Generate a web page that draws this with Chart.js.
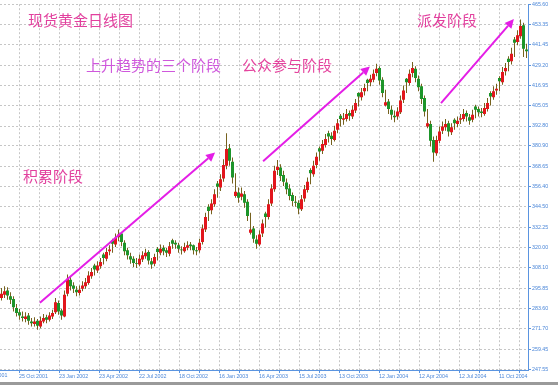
<!DOCTYPE html>
<html>
<head>
<meta charset="utf-8">
<script src="https://cdn.jsdelivr.net/npm/chart.js@4.4.1/dist/chart.umd.min.js"></script>
<style>
  html, body { margin: 0; padding: 0; background: #9a9a9a; }
  #wrap { width: 558px; height: 382px; background: #fff; }
</style>
</head>
<body>
<div id="wrap"><canvas id="gold" width="558" height="382"></canvas></div>
<script>
/* 现货黄金日线图 — gold spot, candles (one candle ≈ one week) */

// ── Data ─────────────────────────────────────────────────────────────────────
const opens = [
  290.0, 292.0, 294.5, 291.0, 289.5, 284.0, 281.5, 279.0, 277.5, 279.5,
  276.0, 274.5, 276.5, 273.0, 276.0, 278.5, 277.0, 279.0, 281.5, 287.0,
  282.5, 279.0, 292.5, 301.0, 297.5, 295.0, 293.0, 295.5, 297.0, 299.0,
  303.0, 309.5, 306.5, 309.0, 316.0, 313.5, 318.0, 324.5, 322.0, 326.5,
  328.5, 323.0, 318.5, 315.0, 313.5, 311.0, 310.0, 313.0, 315.0, 317.5,
  312.0, 310.5, 319.5, 317.0, 320.0, 318.5, 316.5, 324.5, 323.0, 321.5,
  319.0, 318.0, 320.0, 322.0, 321.5, 318.5, 318.5, 323.5, 331.0, 344.5,
  342.5, 346.0, 358.5, 356.0, 361.5, 369.0, 379.5, 371.5, 351.0, 353.0,
  350.5, 352.0, 347.5, 329.0, 331.5, 325.0, 322.0, 328.5, 340.5, 338.5,
  346.5, 355.0, 366.5, 368.0, 363.5, 359.0, 355.5, 351.5, 347.5, 347.0,
  343.0, 349.5, 354.5, 366.5, 364.0, 369.5, 379.5, 378.0, 381.5, 388.5,
  387.0, 384.5, 390.5, 399.0, 396.5, 397.0, 400.5, 398.5, 402.0, 412.5,
  410.0, 413.5, 420.5, 419.0, 420.5, 424.5, 427.5, 420.5, 405.0, 407.5,
  402.5, 399.0, 398.5, 401.0, 408.5, 421.0, 418.5, 424.5, 427.0, 421.0,
  416.5, 409.5, 392.5, 394.0, 384.5, 376.5, 384.0, 390.0, 392.0, 394.5,
  389.0, 396.5, 394.0, 396.5, 397.0, 400.5, 398.0, 396.5, 404.5, 403.0,
  401.5, 400.0, 403.0, 412.5, 410.0, 414.0, 421.5, 419.0, 425.5, 433.0,
  431.5, 444.5, 443.0, 446.5, 453.0, 438.5
];
const highs = [
  296.0, 297.0, 296.5, 293.5, 291.0, 286.5, 283.5, 282.0, 281.5, 281.0,
  278.0, 278.5, 277.5, 279.0, 280.5, 280.0, 281.5, 283.0, 290.0, 288.5,
  283.5, 294.5, 304.0, 303.0, 299.5, 297.0, 297.5, 300.0, 302.0, 306.0,
  308.0, 310.5, 312.0, 314.0, 317.0, 320.0, 321.5, 325.5, 328.5, 331.0,
  329.5, 324.5, 320.0, 317.0, 315.0, 314.0, 316.0, 318.0, 319.5, 318.5,
  314.0, 316.5, 320.5, 322.0, 321.5, 320.0, 323.5, 325.5, 324.5, 323.0,
  321.0, 323.0, 324.0, 323.5, 322.0, 320.5, 325.5, 334.0, 341.0, 346.0,
  349.0, 355.0, 360.0, 364.0, 373.0, 388.5, 382.0, 374.0, 364.5, 356.0,
  356.0, 354.0, 349.0, 341.0, 333.0, 327.5, 330.5, 337.0, 341.5, 349.0,
  358.0, 369.0, 372.5, 370.0, 366.0, 361.5, 358.0, 353.0, 351.0, 348.5,
  351.5, 357.5, 362.0, 367.5, 372.0, 377.0, 380.5, 384.5, 388.0, 390.0,
  389.0, 393.0, 397.0, 400.0, 400.5, 403.0, 402.0, 405.0, 409.0, 413.0,
  415.5, 418.0, 421.0, 423.5, 426.5, 430.0, 428.5, 422.0, 414.5, 409.0,
  405.0, 402.0, 404.0, 411.0, 417.0, 421.5, 426.5, 431.0, 428.5, 423.0,
  418.0, 411.0, 403.0, 396.0, 386.5, 387.0, 392.5, 395.5, 397.0, 396.0,
  394.5, 397.5, 398.5, 400.0, 403.0, 402.0, 400.0, 402.5, 405.5, 404.5,
  403.5, 406.5, 409.5, 413.5, 416.5, 418.0, 422.5, 428.0, 430.5, 434.5,
  439.5, 446.0, 450.0, 456.5, 454.5, 442.0
];
const lows = [
  288.5, 290.0, 289.0, 286.5, 282.0, 279.0, 277.0, 276.0, 275.5, 274.0,
  273.0, 273.0, 271.0, 272.0, 275.0, 275.0, 276.0, 277.5, 280.5, 280.0,
  277.0, 278.5, 291.0, 294.5, 293.0, 291.0, 291.5, 294.0, 295.5, 298.0,
  301.5, 303.5, 305.0, 307.5, 310.0, 312.0, 315.5, 317.0, 320.5, 324.0,
  321.0, 315.5, 313.0, 310.5, 308.5, 308.0, 309.0, 311.5, 313.5, 310.0,
  307.5, 309.0, 312.5, 315.5, 315.5, 314.5, 315.0, 319.5, 319.5, 317.0,
  316.0, 317.0, 318.5, 318.5, 316.0, 315.5, 317.0, 322.0, 329.5, 336.0,
  340.0, 344.5, 350.0, 354.0, 359.5, 367.0, 369.0, 358.5, 350.0, 347.0,
  348.5, 344.0, 336.0, 328.0, 323.0, 319.5, 321.0, 326.5, 332.0, 337.0,
  345.0, 353.5, 363.5, 360.0, 357.0, 352.0, 348.5, 345.0, 344.5, 340.0,
  342.0, 347.5, 353.0, 358.0, 362.5, 367.5, 372.0, 376.0, 380.0, 383.0,
  381.5, 383.5, 388.5, 392.5, 393.5, 395.5, 396.0, 397.0, 400.5, 404.5,
  408.0, 411.0, 413.5, 416.5, 419.0, 422.5, 417.5, 410.0, 404.5, 400.0,
  396.5, 395.0, 396.5, 400.0, 406.5, 412.5, 417.0, 422.0, 419.0, 413.5,
  406.0, 398.5, 391.5, 380.5, 371.5, 375.0, 382.5, 388.0, 390.0, 386.5,
  387.5, 390.5, 392.0, 394.0, 395.5, 395.5, 393.5, 395.0, 397.5, 398.5,
  398.0, 399.0, 401.5, 405.0, 408.5, 411.5, 413.5, 417.5, 423.0, 425.5,
  429.5, 434.0, 441.0, 445.0, 434.0, 433.5
];
const closes = [
  292.5, 294.0, 291.5, 289.0, 284.5, 281.0, 279.5, 278.0, 279.0, 276.5,
  275.0, 276.0, 273.5, 276.5, 278.0, 277.0, 279.5, 281.0, 287.5, 282.0,
  279.5, 292.0, 301.5, 297.0, 295.5, 293.5, 295.0, 297.5, 299.5, 303.5,
  305.5, 307.0, 309.5, 311.5, 314.0, 317.5, 319.0, 322.5, 326.0, 328.0,
  323.5, 318.0, 315.5, 313.0, 311.0, 310.5, 313.5, 315.5, 317.0, 312.5,
  310.0, 314.5, 317.5, 319.5, 318.0, 317.0, 321.0, 322.5, 322.0, 319.5,
  318.5, 320.5, 321.5, 321.0, 318.5, 318.0, 323.0, 331.5, 338.5, 342.0,
  346.5, 352.0, 356.5, 361.0, 369.5, 379.0, 372.0, 362.0, 353.5, 350.0,
  352.5, 347.0, 339.0, 331.0, 325.5, 322.5, 328.0, 334.5, 338.5, 346.0,
  355.5, 366.0, 368.5, 363.0, 359.5, 355.0, 351.0, 348.0, 347.0, 343.5,
  349.0, 355.0, 359.5, 364.5, 369.0, 374.5, 377.5, 382.0, 385.0, 386.5,
  385.0, 390.0, 394.5, 397.0, 397.5, 400.0, 399.0, 402.5, 406.5, 410.5,
  413.0, 415.5, 418.5, 421.0, 424.0, 427.0, 420.0, 412.5, 407.0, 403.0,
  399.5, 398.0, 401.5, 408.0, 414.0, 419.0, 424.0, 427.5, 421.5, 416.0,
  409.0, 401.5, 394.5, 384.0, 377.0, 384.5, 389.5, 392.5, 394.0, 389.5,
  392.0, 394.5, 396.0, 397.5, 400.0, 398.5, 396.0, 399.5, 402.5, 401.0,
  400.5, 403.5, 406.5, 410.5, 413.5, 415.0, 419.5, 425.0, 427.5, 431.0,
  436.0, 442.5, 447.0, 452.5, 439.0, 437.5
];

// price scale labels (right axis)
const yTicks = [
  247.55, 259.45, 271.70, 283.60, 295.85, 308.10, 320.00, 332.25, 344.50, 356.40,
  368.65, 380.90, 392.80, 405.05, 416.95, 429.20, 441.45, 453.35, 465.60
];
// date labels, one on every second grid line
const xLabels = [
  '27 Jul 2001', '25 Oct 2001', '23 Jan 2002', '23 Apr 2002', '22 Jul 2002',
  '18 Oct 2002', '16 Jan 2003', '16 Apr 2003', '15 Jul 2003', '13 Oct 2003',
  '12 Jan 2004', '12 Apr 2004', '12 Jul 2004', '11 Oct 2004'
];
const X_GRID_FIRST = -7.5;      // candle index of the first (hidden) date label
const X_GRID_STEP = 20 / 3;     // grid every 6⅔ candles

// annotations, in [candle index, price]
const noteTexts  = ['现货黄金日线图', '上升趋势的三个阶段', '公众参与阶段', '派发阶段', '积累阶段'];
const noteAnchor = [[8.8, 455.9], [28.2, 429.3], [80.2, 429.3], [138.5, 455.9], [7.2, 362.8]];
const noteColors = ['#e2409e', '#cf58dc', '#e4449e', '#e2409e', '#e2409e'];
const arrowFrom  = [[12.8, 287.2], [87.2, 371.7], [146.5, 406.5]];
const arrowTo    = [[71.2, 377.0], [122.8, 428.4], [170.8, 456.7]];

// ── Styling ──────────────────────────────────────────────────────────────────
const UP = '#e2161c';
const DOWN = '#1d952a';
const WICK = '#76621e';
const AXIS_BLUE = '#5a94e0';
const LABEL_BLUE = '#4a86d8';
const GRID = '#c6c6c6';
const ARROW = '#e41ee6';
const TICK_FONT = { family: 'Liberation Sans', size: 5.3 };

const candleColor = c => closes[c.dataIndex] >= opens[c.dataIndex] ? UP : DOWN;

// ── Annotation plugin ────────────────────────────────────────────────────────
function drawArrow(ctx, x1, y1, x2, y2) {
  const ang = Math.atan2(y2 - y1, x2 - x1);
  const head = 9, half = 4.5;
  const bx = x2 - head * Math.cos(ang), by = y2 - head * Math.sin(ang);
  ctx.strokeStyle = ARROW;
  ctx.fillStyle = ARROW;
  ctx.lineWidth = 2;
  ctx.beginPath();
  ctx.moveTo(x1, y1);
  ctx.lineTo(bx, by);
  ctx.stroke();
  ctx.beginPath();
  ctx.moveTo(x2, y2);
  ctx.lineTo(bx + half * Math.sin(ang), by - half * Math.cos(ang));
  ctx.lineTo(bx - half * Math.sin(ang), by + half * Math.cos(ang));
  ctx.closePath();
  ctx.fill();
}

const notes = {
  id: 'notes',
  afterDatasetsDraw(chart) {
    const { ctx, scales: { x, y } } = chart;
    ctx.save();
    arrowFrom.forEach((a, i) => {
      const b = arrowTo[i];
      drawArrow(ctx, x.getPixelForValue(a[0]), y.getPixelForValue(a[1]),
                     x.getPixelForValue(b[0]), y.getPixelForValue(b[1]));
    });
    ctx.font = '15px "Noto Sans CJK SC"';
    ctx.textAlign = 'left';
    ctx.textBaseline = 'middle';
    noteTexts.forEach((t, i) => {
      ctx.fillStyle = noteColors[i];
      ctx.fillText(t, x.getPixelForValue(noteAnchor[i][0]), y.getPixelForValue(noteAnchor[i][1]));
    });
    // tail of the first date label, which sits left of the plot
    ctx.font = `${TICK_FONT.size}px "${TICK_FONT.family}"`;
    ctx.fillStyle = LABEL_BLUE;
    ctx.fillText(xLabels[0], x.getPixelForValue(X_GRID_FIRST) + 1, chart.chartArea.bottom + 6);
    ctx.restore();
  }
};

// ── Chart ────────────────────────────────────────────────────────────────────
new Chart(document.getElementById('gold'), {
  type: 'bar',
  data: {
    datasets: [
      {
        data: closes.map((c, i) => ({ x: i, y: [opens[i], c] })),
        backgroundColor: candleColor,
        barThickness: 3,
        grouped: false,
        inflateAmount: 0,
        borderWidth: 0,
      },
      {
        data: closes.map((c, i) => ({ x: i, y: [lows[i], highs[i]] })),
        backgroundColor: WICK,
        barThickness: 1,
        grouped: false,
        inflateAmount: 0,
        borderWidth: 0,
      }
    ]
  },
  options: {
    responsive: false,
    animation: false,
    layout: { padding: 0, autoPadding: false },
    plugins: { legend: { display: false }, tooltip: { enabled: false } },
    scales: {
      x: {
        type: 'linear',
        min: -0.5,
        max: closes.length - 0.5,
        offset: false,
        afterFit: s => { s.height = 12; },
        afterBuildTicks: s => {
          const t = [];
          for (let k = 0; k < 40; k++) {
            const v = X_GRID_FIRST + k * X_GRID_STEP;
            if (v > s.min && v < s.max) t.push({ value: v });
          }
          s.ticks = t;
        },
        ticks: {
          autoSkip: false,
          maxRotation: 0,
          align: 'start',
          padding: 0,
          color: LABEL_BLUE,
          font: TICK_FONT,
          callback: v => {
            const k = Math.round((v - X_GRID_FIRST) / X_GRID_STEP);
            return k % 2 === 0 ? xLabels[k / 2] : '';
          }
        },
        grid: { color: GRID, offset: false, tickLength: 3, tickColor: AXIS_BLUE },
        border: { color: AXIS_BLUE, width: 1, dash: [2, 2] },
      },
      y: {
        position: 'right',
        min: 247.0,
        max: 465.6,
        afterFit: s => { s.width = 30; },
        afterBuildTicks: s => { s.ticks = yTicks.map(v => ({ value: v })); },
        ticks: {
          autoSkip: false,
          padding: 1,
          color: LABEL_BLUE,
          font: TICK_FONT,
          callback: v => v.toFixed(2)
        },
        grid: { color: GRID, tickLength: 3, tickColor: AXIS_BLUE },
        border: { color: AXIS_BLUE, width: 1, dash: [2, 2] },
      }
    }
  },
  plugins: [notes]
});
</script>
</body>
</html>
